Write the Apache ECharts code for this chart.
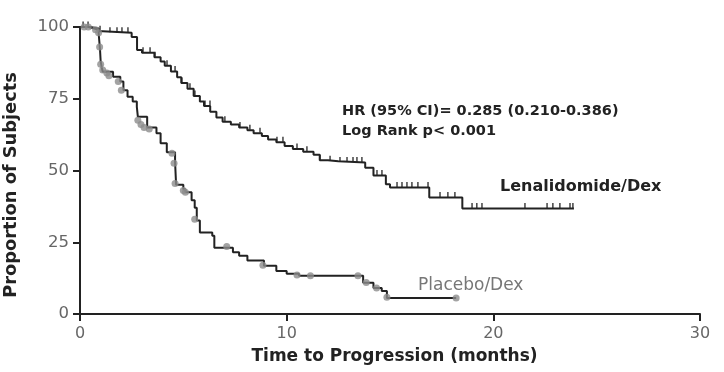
<!DOCTYPE html>
<html><head><meta charset="utf-8">
<script src="https://cdn.jsdelivr.net/npm/echarts@6/dist/echarts.min.js"></script>
<style>html,body{margin:0;padding:0;background:#fff}#c{width:724px;height:372px}</style>
</head><body><div id="c"></div>
<script>
// Lenalidomide/Dex Kaplan-Meier steps (months, % progression-free)
var lenTime = [0,0.5,0.9,1.1,2.5,2.76,3.0,3.6,3.9,4.1,4.4,4.7,4.9,5.2,5.5,5.8,6.0,6.3,6.6,6.9,7.3,7.7,8.1,8.4,8.8,9.1,9.5,9.9,10.3,10.8,11.3,11.6,12.0,12.5,13.8,14.2,14.8,15.0,16.9,18.5,23.9];
var lenSurv = [100,99.5,98.5,98,96.5,92,91,89.5,88,86.5,84.5,82.5,80.5,78.5,76,74,72.5,70.5,68.5,67,66,65,64,63,62,60.8,59.8,58.5,57.5,56.5,55.5,53.6,53.2,52.8,51,48.3,45.2,44.1,40.6,36.8,36.8];
var lenCensor = [0.15,0.39,0.97,1.45,1.79,2.03,2.32,3.05,3.39,3.63,4.21,4.6,4.93,5.32,5.56,6.05,6.29,7.01,7.74,8.22,8.71,9.53,9.82,10.5,10.98,11.61,12.1,12.58,12.92,13.21,13.4,13.64,14.37,14.61,15.34,15.58,15.82,16.06,16.35,16.84,17.42,17.8,18.14,18.97,19.2,19.45,21.53,22.6,22.88,23.22,23.71,23.85];

// Placebo/Dex Kaplan-Meier steps
var plaTime = [0,0.4,0.7,0.9,0.97,1.0,1.05,1.1,1.6,1.95,2.1,2.3,2.55,2.75,2.8,3.25,3.7,3.9,4.2,4.6,4.65,5.0,5.1,5.4,5.55,5.65,5.8,6.4,6.5,7.4,7.7,8.1,8.9,9.5,10.0,10.6,13.5,13.7,14.2,14.6,14.85,18.2];
var plaSurv = [100,99.5,99,98,92,88,86,84.4,82.7,81,78,75.7,74,72.2,68.7,65,63,59.5,56.4,53,45,43.5,42.4,39.6,37,32.6,28.4,27.3,23.1,21.5,20.3,18.6,16.8,15,14,13.3,13.3,10.9,9.1,8.0,5.6,5.6];
var plaCensorT = [0.2,0.4,0.75,0.9,0.95,1.0,1.1,1.3,1.4,1.85,2.0,2.8,2.95,3.1,3.35,4.45,4.55,4.6,5.0,5.1,5.55,7.1,8.85,10.5,11.15,13.45,13.85,14.35,14.85,18.2];
var plaCensorS = [100,100,99,98,93,87,85,84,83,81,78,67.5,66,65,64.5,56,52.5,45.5,43,42.4,33,23.5,17,13.6,13.3,13.3,11,9.1,5.8,5.6];

var xTicks = [0,10,20,30];
var yTicks = [0,25,50,75,100];

function stepAt(ts, ss, t){ var v = ss[0]; for (var i=0;i<ts.length;i++){ if (ts[i] <= t) v = ss[i]; } return v; }

var lenLine = lenTime.map(function(t,i){return [t,lenSurv[i]];});
var plaLine = plaTime.map(function(t,i){return [t,plaSurv[i]];});
var lenMarks = lenCensor.map(function(t){return [t, stepAt(lenTime,lenSurv,t)];});
var plaMarks = plaCensorT.map(function(t,i){return [t, plaCensorS[i]];});

var chart = echarts.init(document.getElementById('c'));
var FONT = '"DejaVu Sans", sans-serif';
chart.setOption({
  animation:false,
  backgroundColor:'#fff',
  grid:{left:80,right:24,top:27,bottom:58,containLabel:false,outerBoundsMode:'none'},
  xAxis:{type:'value',min:0,max:30,interval:10,
    name:'Time to Progression (months)',nameLocation:'middle',nameGap:34,
    nameTextStyle:{fontFamily:FONT,fontWeight:'bold',fontSize:17,color:'#222',padding:[0,0,0,9]},
    axisLine:{lineStyle:{color:'#222',width:2}},
    axisTick:{show:true,length:7,lineStyle:{color:'#222',width:2}},
    axisLabel:{fontFamily:FONT,fontSize:16,color:'#666',margin:12,formatter:function(v){return xTicks.indexOf(v)>=0?String(v):'';}},
    splitLine:{show:false}},
  yAxis:{type:'value',min:0,max:100,interval:25,
    name:'Proportion of Subjects',nameLocation:'middle',nameGap:60,
    nameTextStyle:{fontFamily:FONT,fontWeight:'bold',fontSize:17.8,color:'#222',padding:[0,29,0,0]},
    axisLine:{show:true,lineStyle:{color:'#222',width:2}},
    axisTick:{show:true,length:7,lineStyle:{color:'#222',width:2}},
    axisLabel:{fontFamily:FONT,fontSize:16.5,color:'#666',margin:11,formatter:function(v){return yTicks.indexOf(v)>=0?String(v):'';}},
    splitLine:{show:false}},
  series:[
    {type:'line',name:'Lenalidomide/Dex',data:lenLine,step:'end',showSymbol:false,symbol:'none',
      lineStyle:{color:'#222',width:2},z:3},
    {type:'line',name:'Placebo/Dex',data:plaLine,step:'end',showSymbol:false,symbol:'none',
      lineStyle:{color:'#222',width:2},z:3},
    {type:'scatter',data:lenMarks,symbol:'rect',symbolSize:[1.6,5],symbolOffset:[0,-3],
      itemStyle:{color:'#222'},z:4},
    {type:'scatter',data:plaMarks,symbol:'circle',symbolSize:7,
      itemStyle:{color:'#8c8c8c'},z:4}
  ],
  graphic:[
    {type:'text',left:342,top:104,style:{text:'HR (95% CI)= 0.285 (0.210-0.386)',font:'bold 14.5px '+FONT,fill:'#222'}},
    {type:'text',left:342,top:124,style:{text:'Log Rank p< 0.001',font:'bold 14.5px '+FONT,fill:'#222'}},
    {type:'text',left:500,top:179,style:{text:'Lenalidomide/Dex',font:'bold 16px '+FONT,fill:'#222'}},
    {type:'text',left:418,top:277,style:{text:'Placebo/Dex',font:'17px '+FONT,fill:'#777'}}
  ]
});
</script></body></html>
